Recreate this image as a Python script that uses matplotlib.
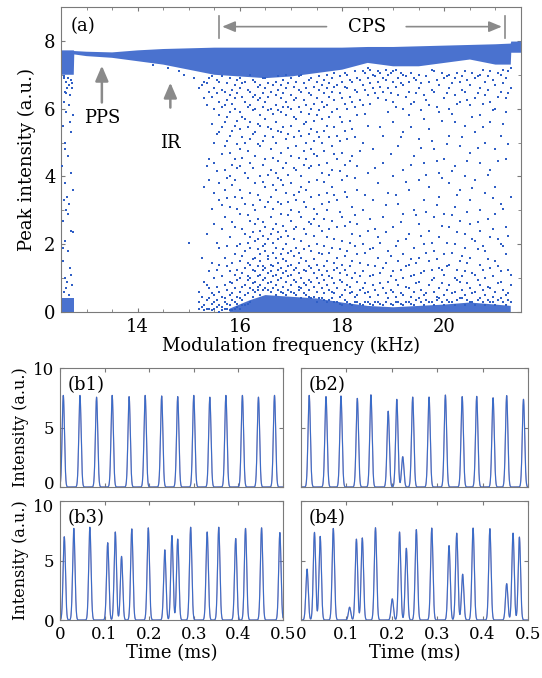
import numpy as np
import matplotlib
matplotlib.use("Agg")
import matplotlib.pyplot as plt
import matplotlib.transforms as mtransforms
from matplotlib.ticker import MultipleLocator

plt.rcParams['font.family'] = ['DejaVu Serif']
plt.rcParams['font.size'] = 13

BLUE = '#2f5fc6'
BAND = '#4a72cf'
GRAY = '#8a8a8a'
SPINE = '#7a7a7a'

# ---------------- panel (a) data ----------------
# dense upper band (envelope)
band_f = [12.5, 12.75, 12.76, 13.0, 13.5, 14.0, 14.5, 15.0, 15.5, 16.0, 16.5, 17.0, 17.5, 18.0, 18.5,
          19.0, 19.5, 20.0, 20.5, 21.0, 21.3, 21.31, 21.5]
band_hi = [7.72, 7.72, 7.70, 7.68, 7.66, 7.72, 7.76, 7.78, 7.80, 7.80, 7.80, 7.80, 7.80, 7.80, 7.82,
           7.82, 7.84, 7.86, 7.88, 7.90, 7.92, 7.98, 7.98]
band_lo = [7.0, 7.0, 7.60, 7.55, 7.50, 7.40, 7.30, 7.15, 7.0, 6.95, 6.9, 6.95, 7.05, 7.15, 7.35,
           7.25, 7.25, 7.35, 7.45, 7.3, 7.3, 7.65, 7.65]
# dense bottom band
low_f = [15.8, 16.2, 16.5, 17.0, 17.5, 18.0, 18.5, 19.0, 19.5, 20.0, 20.5, 21.0, 21.3]
low_hi = [0.10, 0.35, 0.50, 0.45, 0.40, 0.28, 0.18, 0.14, 0.18, 0.22, 0.28, 0.22, 0.18]
left_f = [12.5, 12.75]
left_hi = [0.4, 0.4]

# scattered peaks in the left column and below the periodic band
side_f = [12.55, 12.60, 12.65, 12.70, 12.58, 12.62, 12.68, 12.72, 12.55, 12.66, 12.60, 12.74, 12.53, 12.70,
          12.57, 12.64, 12.52, 12.69, 12.58, 12.55, 12.62, 12.66, 12.60, 12.54, 12.70, 12.73, 12.58, 12.64,
          12.53, 12.68, 12.57, 12.62, 12.72, 12.55, 12.66, 12.60, 12.70, 12.54, 12.63, 12.74, 12.58, 12.68,
          14.3, 14.6, 14.9, 15.1, 15.2, 15.3, 15.0, 14.8, 12.56, 12.64, 12.71, 12.6]
side_p = [6.9, 6.8, 6.7, 6.85, 6.5, 6.6, 6.4, 6.6, 6.2, 6.1, 5.9, 5.8, 5.5, 5.3,
          5.0, 4.6, 4.3, 4.1, 3.8, 3.3, 3.4, 3.2, 3.0, 2.7, 2.4, 2.35, 2.1, 1.8,
          1.5, 1.3, 1.0, 0.9, 0.8, 0.6, 0.5, 0.7, 1.1, 1.9, 2.9, 3.6, 4.8, 5.6,
          7.3, 7.2, 7.0, 6.9, 6.6, 6.8, 2.05, 7.1, 6.95, 6.9, 6.75, 6.45]

# chaotic region: peak values per frequency column (first set)
chaos_f = [15.2, 15.3, 15.4, 15.5, 15.6, 15.7, 15.8, 15.9, 16.0, 16.1, 16.2, 16.3, 16.4, 16.5, 16.6,
           16.7, 16.8, 16.9, 17.0, 17.1, 17.2, 17.3, 17.4, 17.5, 17.6, 17.7, 17.8, 17.9, 18.0, 18.1,
           18.2, 18.3, 18.4, 18.5, 18.6, 18.7, 18.8, 18.9, 19.0, 19.1, 19.2, 19.3, 19.4, 19.5, 19.6,
           19.7, 19.8, 19.9, 20.0, 20.1, 20.2, 20.3, 20.4, 20.5, 20.6, 20.7, 20.8, 20.9, 21.0, 21.1,
           21.2, 21.3]
chaos_p = [
    [0.1, 0.3, 0.6],
    [0.05, 0.2, 0.9, 3.7, 6.3],
    [0.1, 0.4, 0.7, 1.2, 3.9, 4.5, 6.5, 6.9],
    [0.1, 0.3, 0.5, 1.0, 2.6, 3.5, 4.4, 5.0, 6.0, 6.6],
    [0.0, 0.2, 0.6, 1.4, 1.9, 3.3, 3.8, 5.3, 5.8, 6.2, 6.8],
    [0.1, 0.3, 0.4, 0.8, 1.6, 2.8, 3.6, 4.2, 4.9, 5.6, 6.1, 6.5],
    [0.05, 0.2, 0.5, 0.9, 1.2, 2.2, 3.1, 4.0, 4.7, 5.2, 5.9, 6.4, 6.9],
    [0.1, 0.3, 0.7, 1.1, 1.7, 2.5, 3.4, 3.9, 4.5, 5.5, 6.0, 6.3, 6.7],
    [0.1, 0.4, 0.6, 1.0, 1.5, 2.0, 2.9, 3.6, 4.3, 4.8, 5.4, 5.9, 6.6, 6.9],
    [0.2, 0.5, 0.8, 1.3, 1.8, 2.3, 3.2, 4.1, 5.0, 5.7, 6.2, 6.8],
    [0.3, 0.7, 1.0, 1.4, 1.9, 2.2, 2.7, 3.5, 4.4, 5.1, 5.6, 6.1, 6.5, 7.0],
    [0.6, 0.9, 1.2, 1.6, 2.1, 2.6, 3.0, 3.8, 4.6, 5.3, 6.0, 6.4, 6.8],
    [0.5, 0.8, 1.1, 1.5, 1.7, 2.4, 3.3, 4.0, 4.9, 5.5, 5.8, 6.3, 6.7],
    [0.7, 1.0, 1.3, 1.8, 2.0, 2.5, 3.1, 3.7, 4.5, 5.2, 5.7, 6.2, 6.6, 6.9],
    [0.6, 0.9, 1.2, 1.4, 2.3, 2.8, 3.4, 4.2, 4.8, 5.4, 6.0, 6.5],
    [0.5, 0.8, 1.1, 1.6, 1.9, 2.6, 3.6, 4.1, 5.0, 5.6, 6.1, 6.4, 6.8],
    [0.6, 1.0, 1.3, 1.7, 2.2, 2.9, 3.2, 3.9, 4.7, 5.3, 5.9, 6.3, 6.7],
    [0.5, 0.9, 1.2, 1.5, 2.0, 2.4, 3.5, 4.4, 5.1, 5.8, 6.2, 6.6, 7.0],
    [0.6, 0.8, 1.1, 1.4, 1.8, 2.7, 3.0, 3.8, 4.6, 5.5, 6.0, 6.4, 6.9],
    [0.5, 0.9, 1.3, 1.9, 2.5, 3.3, 4.2, 4.9, 5.7, 6.3, 6.8],
    [0.4, 0.7, 1.0, 1.6, 2.1, 2.8, 3.7, 4.0, 5.2, 5.9, 6.5, 7.0],
    [0.5, 0.8, 1.2, 1.5, 2.3, 3.1, 3.6, 4.5, 5.0, 5.6, 6.1, 6.6],
    [0.4, 0.9, 1.3, 1.8, 2.6, 3.4, 4.3, 4.8, 5.4, 6.0, 6.4, 6.9],
    [0.3, 0.6, 1.0, 1.4, 2.0, 2.9, 3.9, 4.6, 5.3, 5.8, 6.3, 6.8],
    [0.4, 0.7, 1.1, 1.7, 2.4, 3.2, 4.1, 5.0, 5.7, 6.2, 6.7],
    [0.3, 0.8, 1.2, 1.5, 2.2, 3.0, 3.5, 4.4, 5.5, 6.1, 6.6, 7.0],
    [0.4, 0.6, 1.0, 1.9, 2.7, 3.7, 4.2, 4.9, 5.9, 6.5, 6.9],
    [0.3, 0.7, 1.3, 1.6, 2.5, 3.3, 4.5, 5.2, 6.0, 6.7],
    [0.2, 0.5, 0.9, 1.4, 2.1, 2.8, 3.9, 4.7, 5.6, 6.3, 6.8],
    [0.3, 0.8, 1.1, 1.8, 3.4, 4.0, 5.1, 6.0, 6.6, 7.0],
    [0.2, 0.6, 1.0, 1.5, 2.3, 3.1, 4.6, 5.4, 6.2, 6.8],
    [0.3, 0.5, 0.9, 1.7, 2.6, 3.6, 4.3, 5.8, 6.5, 6.9],
    [0.2, 0.7, 1.2, 2.0, 3.0, 5.0, 6.1, 6.7, 7.1],
    [0.3, 0.6, 1.4, 2.4, 4.1, 5.5, 6.4, 6.9, 7.2],
    [0.2, 0.8, 1.1, 1.9, 3.3, 4.8, 6.6, 7.0],
    [0.3, 0.5, 1.6, 2.2, 3.8, 6.3, 6.8, 7.1],
    [0.2, 0.7, 1.3, 2.8, 4.4, 5.2, 6.5, 6.9],
    [0.4, 0.9, 1.8, 3.5, 5.9, 6.6, 7.0],
    [0.2, 0.6, 1.2, 2.5, 4.0, 5.6, 6.2, 6.8, 7.1],
    [0.3, 0.8, 1.5, 2.1, 3.2, 4.9, 6.4, 6.9],
    [0.2, 0.5, 1.0, 1.7, 2.9, 4.2, 5.3, 6.0, 6.7, 7.0],
    [0.3, 0.7, 1.4, 2.3, 3.6, 5.8, 6.5, 6.8],
    [0.2, 0.6, 1.1, 1.9, 3.0, 4.6, 6.2, 6.9],
    [0.4, 0.9, 1.6, 2.6, 3.9, 5.1, 6.6, 7.0],
    [0.2, 0.5, 1.2, 2.0, 3.3, 4.4, 5.7, 6.4],
    [0.3, 0.8, 1.5, 2.4, 3.7, 5.4, 6.1, 6.8],
    [0.2, 0.6, 1.0, 1.8, 2.8, 4.8, 6.5, 7.1],
    [0.4, 0.7, 1.3, 2.2, 3.4, 4.1, 5.9, 6.7],
    [0.2, 0.5, 1.1, 1.7, 2.9, 4.5, 6.3, 6.9],
    [0.3, 0.8, 1.4, 2.5, 3.8, 5.2, 6.0, 6.6, 7.0],
    [0.2, 0.6, 1.0, 2.0, 3.1, 4.3, 5.6, 6.4, 6.9],
    [0.4, 0.9, 1.5, 2.7, 3.6, 4.9, 6.2, 6.8],
    [0.2, 0.5, 1.2, 1.9, 2.3, 4.0, 5.5, 6.5, 7.1],
    [0.3, 0.7, 1.6, 2.6, 3.3, 4.7, 6.1, 6.7],
    [0.2, 0.6, 1.1, 2.1, 3.9, 5.3, 6.3, 6.9],
    [0.4, 0.8, 1.4, 2.4, 3.0, 4.4, 5.8, 6.6, 7.0],
    [0.2, 0.5, 1.0, 1.8, 3.5, 5.0, 6.4, 6.8],
    [0.3, 0.7, 1.3, 2.2, 4.2, 5.6, 6.2, 7.1],
    [0.2, 0.6, 1.5, 2.9, 3.7, 4.8, 6.0, 6.7],
    [0.4, 0.9, 1.2, 2.0, 3.2, 5.2, 6.5, 7.0],
    [0.2, 0.5, 1.7, 2.5, 4.5, 5.9, 6.3, 6.9],
    [0.3, 0.8, 1.1, 3.4, 6.6, 7.2],
]

# chaotic region: second set of columns between the first ones
chaos_f2 = [15.25, 15.35, 15.45, 15.55, 15.65, 15.75, 15.85, 15.95, 16.05, 16.15, 16.25, 16.35, 16.45,
            16.55, 16.65, 16.75, 16.85, 16.95, 17.05, 17.15, 17.25, 17.35, 17.45, 17.55, 17.65, 17.75,
            17.85, 17.95, 18.05, 18.15, 18.25, 18.35, 18.45, 18.55, 18.65, 18.75, 18.85, 18.95, 19.05,
            19.15, 19.25, 19.35, 19.45, 19.55, 19.65, 19.75, 19.85, 19.95, 20.05, 20.15, 20.25, 20.35,
            20.45, 20.55, 20.65, 20.75, 20.85, 20.95, 21.05, 21.15, 21.25]
chaos_p2 = [
    [0.15, 0.45, 1.6, 6.7],
    [0.1, 0.35, 0.8, 2.3, 4.3, 6.1, 6.75],
    [0.05, 0.25, 0.55, 1.45, 3.05, 5.55, 6.35, 6.95],
    [0.15, 0.35, 0.75, 1.25, 2.05, 4.15, 5.25, 6.45, 6.85],
    [0.05, 0.15, 0.45, 1.05, 2.45, 3.15, 4.65, 5.45, 6.05, 6.55, 6.95],
    [0.1, 0.25, 0.65, 1.35, 1.95, 3.35, 3.95, 5.05, 5.75, 6.25, 6.75],
    [0.05, 0.35, 0.55, 0.85, 1.45, 2.65, 3.75, 4.35, 5.35, 6.15, 6.55],
    [0.15, 0.25, 0.45, 0.95, 1.25, 1.95, 3.05, 4.25, 4.95, 5.65, 6.45, 6.85],
    [0.2, 0.35, 0.75, 1.15, 1.65, 2.45, 3.35, 4.55, 5.15, 5.75, 6.35, 6.75],
    [0.25, 0.55, 0.95, 1.05, 1.45, 2.05, 2.85, 3.95, 4.75, 5.45, 6.05, 6.55],
    [0.45, 0.65, 0.85, 1.25, 1.55, 2.35, 3.15, 4.25, 5.25, 5.95, 6.35, 6.85],
    [0.65, 0.75, 1.05, 1.35, 1.85, 2.15, 2.75, 3.45, 4.95, 5.55, 6.25, 6.65],
    [0.65, 0.95, 1.25, 1.35, 1.95, 2.25, 2.65, 3.85, 4.35, 5.05, 6.05, 6.45, 6.9],
    [0.65, 0.85, 1.15, 1.55, 1.65, 2.15, 3.25, 4.05, 5.45, 5.95, 6.35, 6.75],
    [0.7, 1.05, 1.35, 1.75, 2.05, 2.45, 3.05, 3.75, 4.55, 5.15, 5.85, 6.7],
    [0.65, 0.95, 1.25, 1.45, 2.15, 2.35, 3.25, 3.95, 4.45, 5.35, 5.95, 6.55, 6.95],
    [0.55, 0.75, 1.15, 1.55, 1.85, 2.55, 3.75, 4.25, 5.45, 6.05, 6.45, 6.85],
    [0.65, 1.05, 1.35, 1.75, 2.25, 2.85, 3.25, 4.05, 4.85, 5.25, 6.05, 6.75],
    [0.55, 0.95, 1.25, 1.65, 2.15, 2.45, 3.45, 4.25, 5.15, 5.75, 6.25, 6.65],
    [0.65, 0.75, 1.15, 1.45, 1.75, 2.95, 3.55, 4.55, 5.35, 6.05, 6.55, 6.95],
    [0.55, 0.85, 1.25, 1.85, 2.45, 3.25, 4.35, 4.75, 5.55, 6.25, 6.75],
    [0.45, 0.65, 0.95, 1.35, 1.95, 2.65, 3.85, 4.25, 5.25, 5.85, 6.45, 6.85],
    [0.45, 0.75, 1.15, 1.55, 2.25, 2.75, 3.05, 4.65, 5.05, 5.65, 6.15, 6.65],
    [0.4, 0.85, 1.25, 1.75, 2.55, 3.45, 4.35, 5.15, 5.95, 6.55, 6.95],
    [0.35, 0.55, 0.95, 1.35, 1.95, 2.75, 3.85, 4.75, 5.35, 6.05, 6.45, 6.85],
    [0.35, 0.65, 1.05, 1.75, 2.45, 3.25, 4.05, 5.15, 5.75, 6.35, 6.75],
    [0.3, 0.55, 0.85, 1.25, 1.45, 2.15, 3.45, 4.65, 5.45, 6.25, 6.65, 7.05],
    [0.25, 0.45, 0.95, 1.15, 1.85, 2.95, 4.15, 5.05, 5.75, 6.45, 6.95],
    [0.35, 0.65, 1.25, 1.65, 2.55, 3.55, 4.35, 5.35, 6.15, 6.65, 7.05],
    [0.25, 0.55, 0.75, 1.35, 2.05, 2.65, 4.45, 5.65, 6.35, 6.85],
    [0.3, 0.45, 1.15, 1.95, 2.85, 3.95, 5.15, 6.05, 6.55, 7.1],
    [0.25, 0.65, 1.05, 1.45, 2.25, 4.75, 6.25, 6.85],
    [0.3, 0.55, 0.85, 1.75, 3.45, 5.85, 6.55, 7.05],
    [0.25, 0.45, 1.05, 1.85, 2.75, 6.15, 6.75, 7.15],
    [0.3, 0.65, 1.35, 2.45, 4.25, 6.45, 6.95],
    [0.25, 0.85, 1.15, 2.05, 5.45, 6.65, 7.05],
    [0.3, 0.55, 1.45, 2.35, 3.15, 6.25, 6.85, 7.15],
    [0.25, 0.65, 1.05, 1.65, 4.65, 6.45, 7.05],
    [0.3, 0.45, 0.95, 1.95, 3.45, 6.05, 6.65, 7.15],
    [0.25, 0.55, 1.25, 2.65, 5.15, 6.75, 7.05],
    [0.3, 0.75, 1.35, 2.15, 3.85, 6.35, 6.95],
    [0.25, 0.45, 1.05, 1.55, 4.35, 5.45, 6.15, 7.05],
    [0.35, 0.85, 1.45, 2.85, 6.45, 6.85],
    [0.3, 0.65, 1.15, 2.25, 4.85, 5.95, 6.75],
    [0.35, 0.55, 1.75, 2.95, 4.05, 6.25, 6.95],
    [0.3, 0.95, 1.25, 2.05, 5.05, 6.55, 7.15],
    [0.35, 0.45, 1.55, 3.15, 4.45, 6.05, 6.85],
    [0.3, 0.85, 1.25, 2.55, 3.95, 5.65, 7.05],
    [0.35, 0.65, 1.35, 2.05, 4.95, 6.45, 6.95],
    [0.3, 0.55, 1.75, 2.85, 4.15, 5.85, 6.75],
    [0.35, 0.95, 1.25, 2.35, 3.45, 6.15, 7.05],
    [0.4, 0.65, 1.05, 1.65, 5.15, 6.55, 6.95],
    [0.35, 0.85, 1.45, 2.95, 4.45, 6.25, 6.85],
    [0.3, 0.55, 1.15, 2.15, 3.65, 5.75, 7.05],
    [0.35, 0.95, 1.85, 2.65, 4.85, 6.45, 6.95],
    [0.3, 0.65, 1.25, 1.95, 5.45, 6.15, 7.15],
    [0.35, 0.75, 1.55, 2.75, 4.05, 6.55, 6.95],
    [0.3, 0.45, 1.05, 2.45, 3.35, 5.95, 6.85],
    [0.35, 0.85, 1.35, 2.15, 4.45, 6.35, 7.05],
    [0.3, 0.65, 1.95, 3.05, 5.55, 6.75, 7.15],
    [0.35, 0.55, 1.25, 2.25, 4.95, 6.45, 7.1],
]

# ---------------- panel (b) data: pulse times (ms) and peak heights ----------------
b1_t = [0.0074, 0.0448, 0.082, 0.117, 0.155, 0.191, 0.228, 0.264, 0.300, 0.336, 0.372, 0.409, 0.445, 0.481]
b1_h = [7.7, 7.7, 7.55, 7.7, 7.6, 7.7, 7.65, 7.6, 7.7, 7.55, 7.7, 7.7, 7.55, 7.7]
b2_t = [0.018, 0.055, 0.088, 0.124, 0.154, 0.192, 0.211, 0.224, 0.246, 0.282, 0.318, 0.355, 0.387, 0.423,
        0.453, 0.490]
b2_h = [7.7, 7.6, 7.65, 7.45, 7.75, 6.37, 7.37, 2.55, 7.56, 7.56, 7.73, 7.6, 7.62, 7.5, 7.68, 7.37]
b3_t = [0.0096, 0.031, 0.067, 0.107, 0.124, 0.138, 0.161, 0.198, 0.235, 0.251, 0.264, 0.293, 0.330, 0.356,
        0.394, 0.416, 0.452, 0.493]
b3_h = [7.0, 7.7, 7.8, 6.5, 7.4, 5.35, 7.66, 7.75, 5.9, 7.1, 6.8, 7.8, 7.4, 7.8, 6.85, 7.7, 7.75, 7.35]
b4_t = [0.0133, 0.0296, 0.0422, 0.0711, 0.107, 0.122, 0.135, 0.164, 0.201, 0.217, 0.232, 0.254, 0.288,
        0.326, 0.343, 0.356, 0.379, 0.416, 0.453, 0.467, 0.481]
b4_h = [4.28, 7.37, 7.03, 7.7, 1.08, 6.8, 6.9, 7.76, 1.78, 7.4, 6.03, 7.6, 7.73, 6.26, 7.3, 3.85, 7.73,
        7.68, 3.06, 7.3, 6.97]
pulse_sigma = 0.0026

panel_labels = ['(b1)', '(b2)', '(b3)', '(b4)']

# ---------------- figure ----------------
fig = plt.figure(figsize=(5.42, 6.78), dpi=100)

def style(ax, size=13):
    ax.tick_params(direction='in', top=True, right=True, which='both', color=SPINE,
                   length=3, labelsize=size, pad=4)
    ax.tick_params(which='minor', length=2)
    for s in ax.spines.values():
        s.set_color(SPINE)
        s.set_linewidth(0.8)

ax = fig.add_axes([0.1125, 0.5398, 0.8487, 0.4499])
for fx, lo, hi in [(band_f, band_lo, band_hi), (low_f, [0] * len(low_f), low_hi),
                   (left_f, [0, 0], left_hi)]:
    ax.fill_between(fx, lo, hi, facecolor=BAND, edgecolor='none', linewidth=0, zorder=2)
cf, cp = [], []
for fl, pl in [(chaos_f, chaos_p), (chaos_f2, chaos_p2)]:
    for f, ps in zip(fl, pl):
        cf += [f] * len(ps)
        cp += ps
ax.scatter(cf, cp, s=4, marker='s', color=BLUE, linewidths=0, zorder=3)
ax.scatter(side_f, side_p, s=4, marker='s', color=BLUE, linewidths=0, zorder=3)

ax.set_xlim(12.5, 21.5)
ax.set_ylim(0, 9)
ax.set_xticks([14, 16, 18, 20])
ax.set_yticks([0, 2, 4, 6, 8])
ax.xaxis.set_minor_locator(MultipleLocator(0.5))
ax.yaxis.set_minor_locator(MultipleLocator(1))
style(ax)
ax.set_xlabel('Modulation frequency (kHz)', fontsize=13, labelpad=1)
ax.set_ylabel('Peak intensity (a.u.)', fontsize=13, labelpad=6)

ax.text(12.68, 8.45, '(a)', fontsize=13, va='center', ha='left')
# CPS double arrow
akw = dict(arrowstyle='-|>,head_length=0.6,head_width=0.25', color=GRAY, lw=1.2)
ax.annotate('', xy=(15.6, 8.42), xytext=(17.75, 8.42), arrowprops=akw)
ax.annotate('', xy=(21.18, 8.42), xytext=(19.2, 8.42), arrowprops=akw)
ax.plot([15.6, 15.6], [8.08, 8.72], color=GRAY, lw=1.2)
ax.plot([21.18, 21.18], [8.08, 8.72], color=GRAY, lw=1.2)
ax.text(18.48, 8.42, 'CPS', fontsize=13, ha='center', va='center')
# PPS and IR arrows
akw2 = dict(arrowstyle='-|>,head_length=0.7,head_width=0.3', color=GRAY, lw=1.8)
ax.annotate('', xy=(13.3, 7.35), xytext=(13.3, 6.1), arrowprops=akw2)
ax.text(13.3, 5.72, 'PPS', fontsize=13, ha='center', va='center')
ax.annotate('', xy=(14.64, 6.85), xytext=(14.64, 5.95), arrowprops=akw2)
ax.text(14.64, 5.0, 'IR', fontsize=13, ha='center', va='center')

# bottom panels
rects = [[0.1107, 0.2817, 0.4114, 0.1755], [0.5554, 0.2817, 0.4188, 0.1755],
         [0.1107, 0.0855, 0.4114, 0.1755], [0.5554, 0.0855, 0.4188, 0.1755]]
series = [(b1_t, b1_h), (b2_t, b2_h), (b3_t, b3_h), (b4_t, b4_h)]
t = np.linspace(0, 0.5, 3000)
for i, (rect, (pt, ph)) in enumerate(zip(rects, series)):
    a = fig.add_axes(rect)
    y = np.zeros_like(t)
    for ti, hi in zip(pt, ph):
        y += hi * np.exp(-(t - ti) ** 2 / (2 * pulse_sigma ** 2))
    a.plot(t, y, color='#9a4f7a', lw=0.9, alpha=0.5)
    a.plot(t, y, color='#3a6cc8', lw=0.8)
    a.set_xlim(0, 0.5)
    a.set_ylim(0, 10)
    a.set_xticks([0, 0.1, 0.2, 0.3, 0.4, 0.5])
    a.set_xticklabels(['0', '0.1', '0.2', '0.3', '0.4', '0.5'])
    a.set_yticks([0, 5, 10])
    style(a, size=12)
    a.text(0.035, 0.86, panel_labels[i], transform=a.transAxes, fontsize=13, va='center', ha='left')
    if i < 2:
        a.tick_params(labelbottom=False)
    else:
        a.set_xlabel('Time (ms)', fontsize=13, labelpad=1)
    if i % 2 == 1:
        a.tick_params(labelleft=False)
    else:
        a.set_ylabel('Intensity (a.u.)', fontsize=11.5, labelpad=3)
        labs = a.get_yticklabels()
        if i == 0:
            shift = mtransforms.ScaledTranslation(0, 3 / 72, fig.dpi_scale_trans)
            labs[0].set_transform(labs[0].get_transform() + shift)
        else:
            shift = mtransforms.ScaledTranslation(0, -3 / 72, fig.dpi_scale_trans)
            labs[-1].set_transform(labs[-1].get_transform() + shift)

fig.savefig('out.png', dpi=100)
